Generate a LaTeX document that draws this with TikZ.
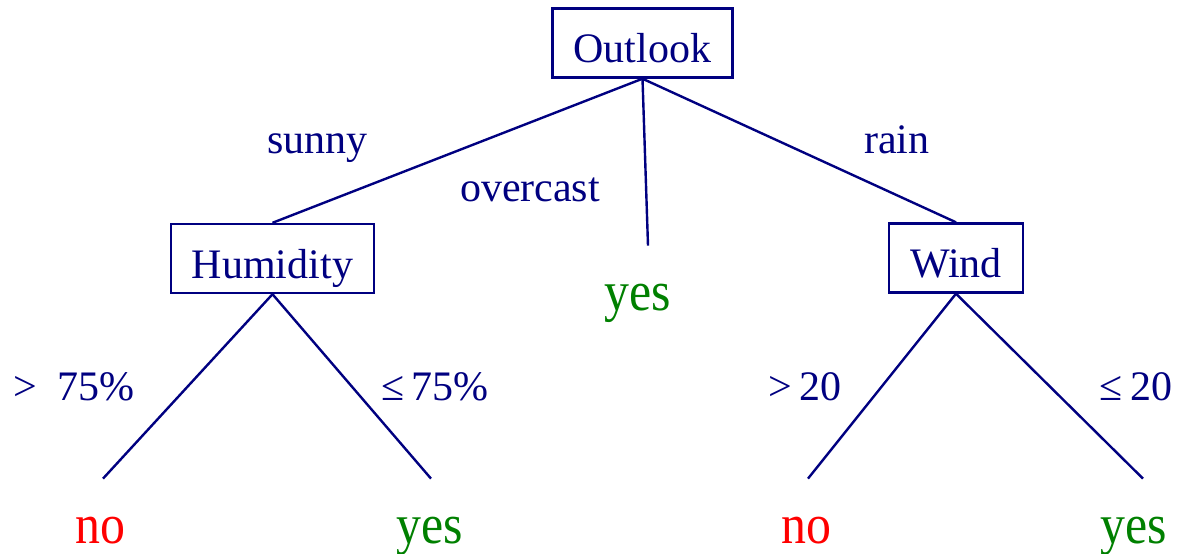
\documentclass[tikz,border=0pt]{standalone}
\usepackage{fontspec}
\setmainfont{Liberation Serif}
\usepackage{graphicx}
\definecolor{treenavy}{RGB}{0,0,128}
\definecolor{leafgreen}{RGB}{0,128,0}
\definecolor{leafred}{RGB}{255,0,0}
% leaf words are set slightly condensed
\newcommand{\narrowword}[1]{\scalebox{0.89}[1]{#1}}
\begin{document}
\begin{tikzpicture}[x=0.5pt,y=-0.5pt,
  attr/.style={draw=treenavy, line width=1.2pt, text=treenavy,
    font=\fontsize{21}{25}\selectfont, inner xsep=10.5pt, inner ysep=0pt,
    text height=19.5pt, text depth=0pt, minimum height=34.5pt},
  edge/.style={draw=treenavy, line width=1.2pt},
  branch/.style={text=treenavy, font=\fontsize{21}{25}\selectfont,
    anchor=base, inner sep=0pt},
  leaf/.style={font=\fontsize{28}{32}\selectfont, anchor=base,
    inner sep=0pt, outer xsep=0pt, outer ysep=19pt},
  yesleaf/.style={leaf, text=leafgreen},
  noleaf/.style={leaf, text=leafred}]
\useasboundingbox (0,0) rectangle (1178,553);

% attribute tests
\node[attr] (outlook)  at (642.5,43)  {Outlook};
\node[attr] (humidity) at (272.5,258.5) {Humidity};
\node[attr] (wind)     at (956,258)   {Wind};

% leaves
\node[yesleaf] (yesmid) at (638,310)  {\narrowword{yes}};
\node[noleaf]  (no1)    at (100.5,543) {\narrowword{no}};
\node[yesleaf] (yes1)   at (430,543)  {\narrowword{yes}};
\node[noleaf]  (no2)    at (806,543)  {\narrowword{no}};
\node[yesleaf] (yes2)   at (1134,543) {\narrowword{yes}};

% branches
\draw[edge] (outlook.south) -- (humidity.north);
\draw[edge] (outlook.south) -- ([xshift=5pt]yesmid.north);
\draw[edge] (outlook.south) -- (wind.north);
\draw[edge] (humidity.south) -- ([xshift=1.25pt]no1.north);
\draw[edge] (humidity.south) -- ([xshift=0.5pt]yes1.north);
\draw[edge] (wind.south) -- ([xshift=1pt]no2.north);
\draw[edge] (wind.south) -- ([xshift=4.5pt]yes2.north);

% branch labels
\node[branch] (lsunny) at (317.5,153) {sunny};
\node[branch] (lover)  at (530,201)   {overcast};
\node[branch] (lrain)  at (897,153)   {rain};
\node[branch] (lhhigh) at (74,400)    {>\hspace{0.5em}75\%};
\node[branch] (lhlow)  at (435,400)   {≤\,75\%};
\node[branch] (lwhigh) at (805,400)   {>\,20};
\node[branch] (lwlow)  at (1136,400)  {≤\,20};
\end{tikzpicture}
\end{document}
